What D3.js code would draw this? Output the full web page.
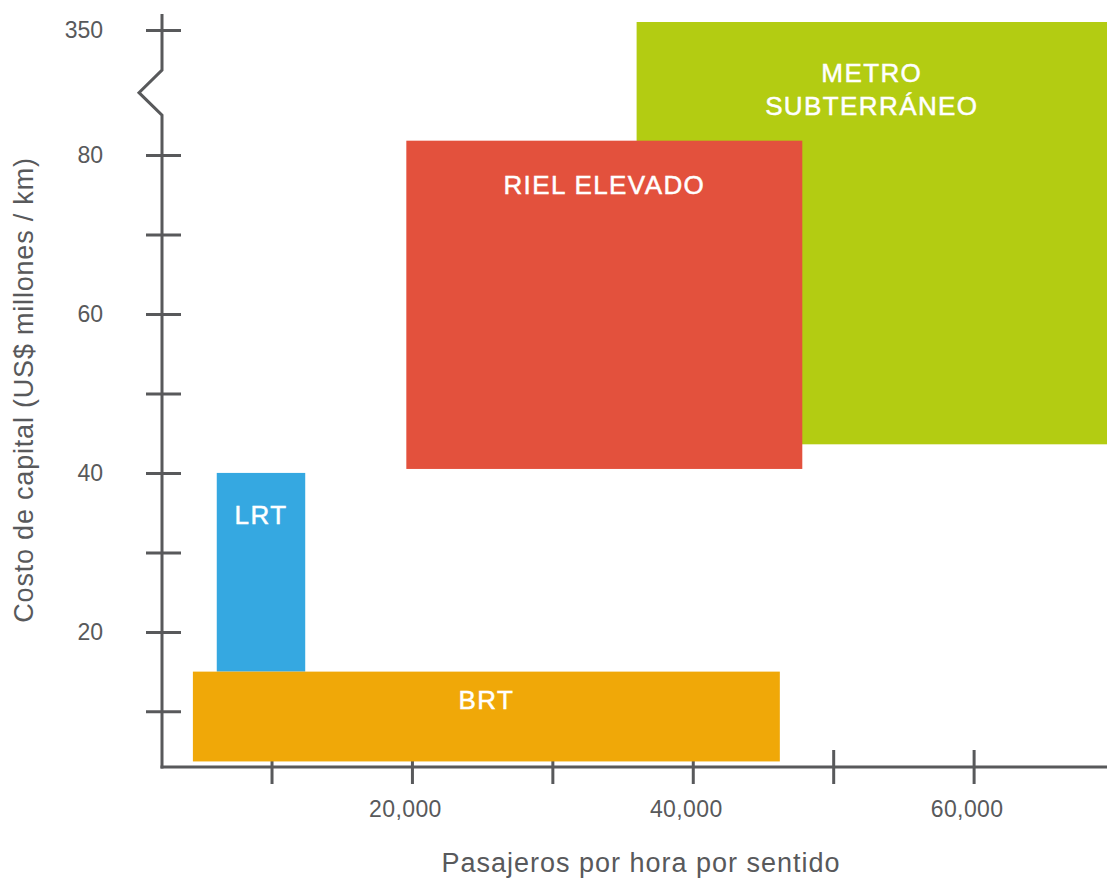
<!DOCTYPE html>
<html>
<head>
<meta charset="utf-8">
<script src="https://cdn.jsdelivr.net/npm/d3@7/dist/d3.min.js"></script>
<style>
  html, body { margin: 0; padding: 0; background: #fff; }
  svg { display: block; font-family: "Liberation Sans", Arial, Helvetica, sans-serif; }
</style>
</head>
<body>
<svg id="chart" width="1107" height="878"></svg>
<script>
// Transit modes: ranges of capacity (passengers/hour/direction) and capital cost (US$ M / km)
const modes = ["METRO SUBTERRÁNEO", "RIEL ELEVADO", "LRT", "BRT"];
const labelLines = [["METRO", "SUBTERRÁNEO"], ["RIEL ELEVADO"], ["LRT"], ["BRT"]];
const capacityMin = [36000, 19600, 6100, 4400];
const capacityMax = [69500, 47800, 12400, 46200];
const costMin = [43.6, 40.5, 15, 3.7];
const costMax = [352, 81.8, 40, 15];
const colors = ["#b3cc12", "#e3513d", "#35a8e1", "#f0a808"];

const xTicks = [10000, 20000, 30000, 40000, 50000, 60000];
const xTickLabels = ["", "20,000", "", "40,000", "", "60,000"];
const yTicks = [10, 20, 30, 40, 50, 60, 70, 80, 350];
const yTickLabels = ["", "20", "", "40", "", "60", "", "80", "350"];

const xTitle = "Pasajeros por hora por sentido";
const yTitle = "Costo de capital (US$ millones / km)";

// Axis break: the cost scale is linear up to breakLow, compressed between breakLow and breakHigh
const breakLow = 85, breakHigh = 340;

const svg = d3.select("#chart");
const axisColor = "#58595b";
const textColor = "#58595b";

const x = d3.scaleLinear().domain([2200, 69500]).range([162, 1107]);
const y = d3.scaleLinear()
  .domain([3, breakLow, breakHigh, 354])
  .range([767, 115.25, 70, 14]);

// ---- X axis ----
const xAxis = d3.axisBottom(x)
  .tickValues(xTicks)
  .tickSize(17)
  .tickFormat((d, i) => xTickLabels[i]);
const gx = svg.append("g").attr("transform", `translate(0,${y(3)})`).call(xAxis);
gx.select(".domain").remove();
gx.selectAll(".tick line").attr("y1", -17).attr("stroke", axisColor).attr("stroke-width", 3);
gx.selectAll(".tick text")
  .attr("y", 50).attr("dy", 0).attr("dx", -7)
  .attr("fill", textColor)
  .style("font-size", "23px")
  .style("letter-spacing", "0.4px")
  .style("font-family", "'Liberation Sans', Arial, sans-serif");
svg.append("line")
  .attr("x1", x.range()[0] - 1.5).attr("x2", x.range()[1])
  .attr("y1", y(3)).attr("y2", y(3))
  .attr("stroke", axisColor).attr("stroke-width", 3);

// ---- Y axis (with break) ----
const yAxis = d3.axisLeft(y)
  .tickValues(yTicks)
  .tickSize(16)
  .tickPadding(43)
  .tickFormat((d, i) => yTickLabels[i]);
const gy = svg.append("g").attr("transform", `translate(${x(2200)},0)`).call(yAxis);
gy.select(".domain").remove();
gy.selectAll(".tick line").attr("x2", -16).attr("x1", 19).attr("stroke", axisColor).attr("stroke-width", 3);
gy.selectAll(".tick text")
  .attr("fill", textColor)
  .style("font-size", "23px")
  .style("font-family", "'Liberation Sans', Arial, sans-serif");

const ax0 = x(2200);
const yBreakLow = y(breakLow), yBreakHigh = y(breakHigh);
const axisPath = d3.path();
axisPath.moveTo(ax0, y(3) + 1.5);
axisPath.lineTo(ax0, yBreakLow);
axisPath.lineTo(ax0 - 23, (yBreakLow + yBreakHigh) / 2);
axisPath.lineTo(ax0, yBreakHigh);
axisPath.lineTo(ax0, y(354));
svg.append("path")
  .attr("d", axisPath.toString())
  .attr("fill", "none")
  .attr("stroke", axisColor)
  .attr("stroke-width", 3)
  .attr("stroke-linejoin", "miter");

// ---- Axis titles ----
svg.append("text")
  .attr("x", 641).attr("y", 872)
  .attr("text-anchor", "middle")
  .attr("fill", textColor)
  .style("font-size", "27px")
  .style("letter-spacing", "1px")
  .text(xTitle);

svg.append("text")
  .attr("transform", "translate(33,390) rotate(-90)")
  .attr("text-anchor", "middle")
  .attr("fill", textColor)
  .style("font-size", "27px")
  .style("letter-spacing", "0.8px")
  .text(yTitle);

// ---- Mode rectangles ----
const data = modes.map((m, i) => ({
  mode: m, lines: labelLines[i],
  x0: capacityMin[i], x1: capacityMax[i],
  y0: costMin[i], y1: costMax[i],
  color: colors[i]
}));

// order: metro, riel elevado on top of it; LRT then BRT
const drawOrder = [0, 1, 2, 3];
const labelOffset = [60, 53, 51, 37];   // baseline distance below each rectangle's top edge
const lineGap = 33;

const g = svg.append("g");
drawOrder.forEach(i => {
  const d = data[i];
  g.append("rect")
    .attr("x", x(d.x0))
    .attr("y", y(d.y1))
    .attr("width", x(d.x1) - x(d.x0))
    .attr("height", y(d.y0) - y(d.y1))
    .attr("fill", d.color);
});
drawOrder.forEach(i => {
  const d = data[i];
  const cx = (x(d.x0) + x(d.x1)) / 2;
  const t = g.append("text")
    .attr("text-anchor", "middle")
    .attr("fill", "#ffffff")
    .attr("stroke", "#ffffff")
    .attr("stroke-width", 0.5)
    .style("font-size", "26px")
    .style("letter-spacing", "1.4px");
  d.lines.forEach((line, k) => {
    t.append("tspan")
      .attr("x", cx)
      .attr("y", y(d.y1) + labelOffset[i] + k * lineGap)
      .text(line);
  });
});
</script>
</body>
</html>
